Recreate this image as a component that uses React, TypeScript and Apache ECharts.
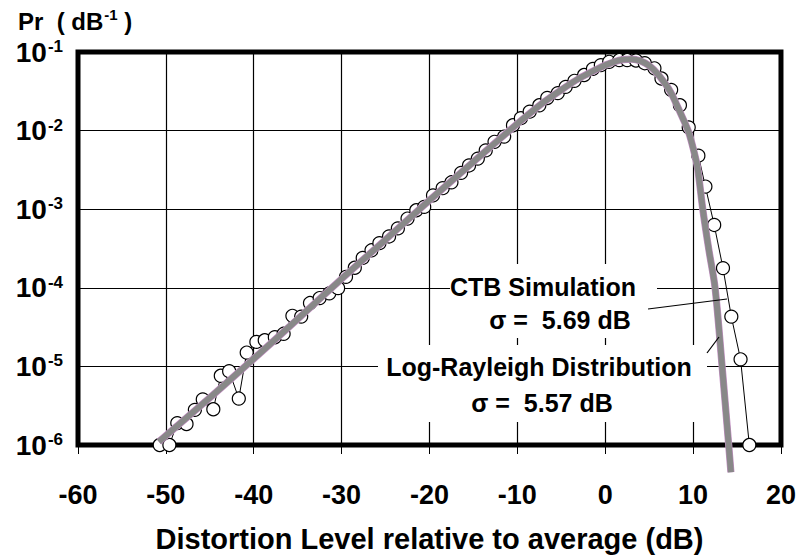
import React, { useEffect, useRef } from "react";
import * as echarts from "echarts";

// CTB simulation (open circles)
const simLevels = [
  -50.7, -49.6, -48.7, -47.65, -46.7, -45.8, -44.6, -43.75, -42.8, -41.7,
  -40.8, -39.7, -38.75, -37.6, -36.6, -35.6, -34.6, -33.6, -32.5, -31.4,
  -30.4, -29.5, -28.5, -27.6, -26.6, -25.7, -24.6, -23.6, -22.5, -21.5,
  -20.6, -19.6, -18.5, -17.5, -16.4, -15.5, -14.5, -13.6, -12.6, -11.5,
  -10.5, -9.6, -8.6, -7.5, -6.6, -5.4, -4.5, -3.5, -2.4, -1.4,
  -0.5, 0.45, 1.6, 2.5, 3.5, 4.5, 5.6, 6.4, 7.5, 8.5,
  9.5, 10.6, 11.4, 12.4, 13.4, 14.35, 15.4, 16.4,
];
const simProb = [
  1.0e-6, 1.0e-6, 1.9e-6, 1.85e-6, 2.8e-6, 3.8e-6, 2.85e-6, 7.6e-6, 8.7e-6, 3.9e-6,
  1.5e-5, 2.05e-5, 2.15e-5, 2.35e-5, 2.6e-5, 4.4e-5, 4.3e-5, 6.4e-5, 7.4e-5, 8.5e-5,
  9.9e-5, 1.38e-4, 1.8e-4, 2.4e-4, 3.0e-4, 3.7e-4, 4.5e-4, 5.7e-4, 7.6e-4, 9.7e-4,
  1.07e-3, 1.5e-3, 1.85e-3, 2.2e-3, 2.9e-3, 3.6e-3, 4.4e-3, 5.6e-3, 7.2e-3, 8.4e-3,
  1.17e-2, 1.44e-2, 1.74e-2, 2.1e-2, 2.6e-2, 3.0e-2, 3.6e-2, 4.3e-2, 5.1e-2, 6.1e-2,
  6.8e-2, 7.5e-2, 7.9e-2, 7.9e-2, 7.8e-2, 7.2e-2, 6.2e-2, 4.6e-2, 3.3e-2, 2.1e-2,
  1.1e-2, 4.8e-3, 1.94e-3, 6.3e-4, 1.78e-4, 4.3e-5, 1.23e-5, 1.0e-6,
];

// Log-Rayleigh distribution (thick grey curve)
const lrLevels = [
  -50.8, -45, -40, -35, -30, -25, -20, -15, -10, -7, -5, -3, -1, 0, 1, 2, 3, 4, 5, 6,
  7, 7.5, 8, 9, 9.5, 10, 10.5, 11.1, 11.8, 12.5, 13.3, 14.05, 14.3,
];
const lrProb = [
  1.1e-6, 4.0e-6, 1.25e-5, 4.0e-5, 1.3e-4, 4.1e-4, 1.3e-3, 4.0e-3, 1.22e-2, 2.3e-2,
  3.3e-2, 4.6e-2, 6.0e-2, 6.8e-2, 7.5e-2, 8.0e-2, 8.1e-2, 7.7e-2, 6.7e-2, 5.2e-2,
  3.7e-2, 3.0e-2, 2.3e-2, 1.3e-2, 9.5e-3, 6.0e-3, 3.4e-3, 1.0e-3, 3.0e-4, 1.0e-4,
  1.0e-5, 1.0e-6, 4.5e-7,
];

const xMin = -60;
const xMax = 20;
const xStep = 10;
const yMin = 1e-6;
const yMax = 1e-1;

const FONT = "'Liberation Sans', Arial, Helvetica, sans-serif";

export default function App() {
  const ref = useRef<HTMLDivElement>(null);
  useEffect(() => {
    document.body.style.margin = "0";
    const chart = echarts.init(ref.current!, null, { renderer: "svg" });
    const simData = simLevels.map((x, i) => [x, simProb[i]]);
    const lrData = lrLevels.map((x, i) => [x, lrProb[i]]);
    chart.setOption({
      animation: false,
      backgroundColor: "#fff",
      textStyle: { fontFamily: FONT },
      grid: {
        left: 78,
        right: 17,
        top: 52,
        bottom: 115,
        show: true,
        borderWidth: 5,
        borderColor: "#000",
        backgroundColor: "transparent",
      },
      xAxis: {
        type: "value",
        min: xMin,
        max: xMax,
        interval: xStep,
        axisLine: { show: false },
        axisTick: { show: true, length: 9, lineStyle: { color: "#000", width: 1 } },
        splitLine: { show: true, lineStyle: { color: "#000", width: 1.2 } },
        axisLabel: {
          color: "#000",
          fontSize: 27,
          fontWeight: "bold",
          fontFamily: FONT,
          margin: 36,
        },
        name: "Distortion Level relative to average (dB)",
        nameLocation: "middle",
        nameGap: 79,
        nameTextStyle: { color: "#000", fontSize: 29, fontWeight: "bold", fontFamily: FONT },
      },
      yAxis: {
        type: "log",
        logBase: 10,
        min: yMin,
        max: yMax,
        interval: 1,
        axisLine: { show: false },
        axisTick: { show: true, length: 9, lineStyle: { color: "#000", width: 1 } },
        splitLine: { show: true, lineStyle: { color: "#000", width: 1.2 } },
        axisLabel: {
          margin: 15,
          formatter: (v: number) => {
            const e = Math.round(Math.log10(v));
            return `{b|10}{s|${e}}`;
          },
          rich: {
            b: { fontSize: 28, fontWeight: "bold", color: "#000", fontFamily: FONT, verticalAlign: "bottom" },
            s: {
              fontSize: 17,
              fontWeight: "bold",
              color: "#000",
              fontFamily: FONT,
              verticalAlign: "bottom",
              padding: [0, 0, 11, 1],
            },
          },
        },
      },
      graphic: [
        {
          type: "text",
          left: 18,
          top: 7,
          style: {
            text: "{a|Pr  ( dB}{s|-1}{a| )}",
            rich: {
              a: { fontSize: 24, fontWeight: "bold", fill: "#000", fontFamily: FONT, verticalAlign: "bottom" },
              s: {
                fontSize: 15,
                fontWeight: "bold",
                fill: "#000",
                fontFamily: FONT,
                verticalAlign: "bottom",
                padding: [0, 0, 11, 1],
              },
            },
          },
        },
        { type: "rect", shape: { x: 450, y: 264, width: 207, height: 74 }, style: { fill: "#fff" }, z: 50 },
        { type: "rect", shape: { x: 378, y: 345, width: 329, height: 77 }, style: { fill: "#fff" }, z: 50 },
        {
          type: "text",
          x: 543,
          y: 287,
          z: 51,
          style: { text: "CTB Simulation", fontSize: 25, fontWeight: "bold", fill: "#000", fontFamily: FONT, align: "center", verticalAlign: "middle" },
        },
        {
          type: "text",
          x: 560,
          y: 320,
          z: 51,
          style: { text: "σ =  5.69 dB", fontSize: 25, fontWeight: "bold", fill: "#000", fontFamily: FONT, align: "center", verticalAlign: "middle" },
        },
        {
          type: "text",
          x: 539,
          y: 367,
          z: 51,
          style: { text: "Log-Rayleigh Distribution", fontSize: 25, fontWeight: "bold", fill: "#000", fontFamily: FONT, align: "center", verticalAlign: "middle" },
        },
        {
          type: "text",
          x: 542,
          y: 403,
          z: 51,
          style: { text: "σ =  5.57 dB", fontSize: 25, fontWeight: "bold", fill: "#000", fontFamily: FONT, align: "center", verticalAlign: "middle" },
        },
        { type: "line", shape: { x1: 648, y1: 309, x2: 727, y2: 299 }, style: { stroke: "#000", lineWidth: 1.2 }, z: 51 },
        { type: "line", shape: { x1: 707, y1: 353, x2: 719, y2: 337 }, style: { stroke: "#000", lineWidth: 1.2 }, z: 51 },
      ],
      series: [
        {
          name: "CTB Simulation",
          type: "line",
          data: simData,
          z: 3,
          clip: false,
          symbol: "circle",
          symbolSize: 13,
          showAllSymbol: true,
          lineStyle: { color: "#000", width: 1 },
          itemStyle: { color: "#fff", borderColor: "#000", borderWidth: 1.2 },
        },
        {
          name: "Log-Rayleigh edge",
          type: "line",
          data: lrData,
          z: 4,
          clip: false,
          smooth: 0.3,
          symbol: "none",
          lineStyle: { color: "#c38fc3", width: 7.2 },
        },
        {
          name: "Log-Rayleigh",
          type: "line",
          data: lrData,
          z: 5,
          clip: false,
          smooth: 0.3,
          symbol: "none",
          lineStyle: { color: "#888888", width: 6 },
        },
      ],
    });
    return () => chart.dispose();
  }, []);
  return <div ref={ref} style={{ width: 799, height: 560 }} />;
}
